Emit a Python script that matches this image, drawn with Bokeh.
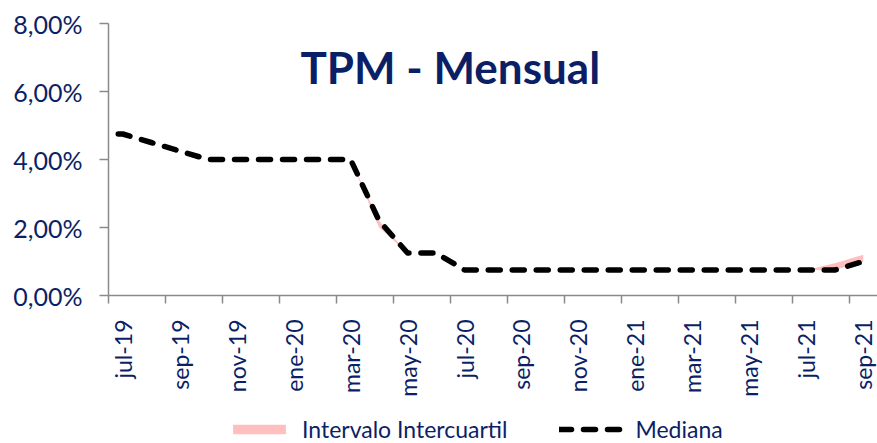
import math
from bokeh.plotting import figure
from bokeh.layouts import column
from bokeh.models import (LinearAxis, FixedTicker, CustomJSTickFormatter, Legend,
                          LegendItem, Label, Range1d)
from bokeh.embed import file_html
from bokeh.resources import INLINE

# ---- data ----
months = ["jun-19", "jul-19", "ago-19", "sep-19", "oct-19", "nov-19", "dic-19",
          "ene-20", "feb-20", "mar-20", "abr-20", "may-20", "jun-20", "jul-20",
          "ago-20", "sep-20", "oct-20", "nov-20", "dic-20", "ene-21", "feb-21",
          "mar-21", "abr-21", "may-21", "jun-21", "jul-21", "ago-21", "sep-21"]
mediana = [4.75, 4.75, 4.50, 4.25, 4.00, 4.00, 4.00,
           4.00, 4.00, 4.00, 2.20, 1.25, 1.25, 0.75,
           0.75, 0.75, 0.75, 0.75, 0.75, 0.75, 0.75,
           0.75, 0.75, 0.75, 0.75, 0.75, 0.75, 1.00]
q1 = [4.75, 4.75, 4.50, 4.25, 4.00, 4.00, 4.00,
      4.00, 4.00, 4.00, 2.00, 1.25, 1.25, 0.75,
      0.75, 0.75, 0.75, 0.75, 0.75, 0.75, 0.75,
      0.75, 0.75, 0.75, 0.75, 0.75, 0.75, 1.00]
q3 = [4.75, 4.75, 4.50, 4.25, 4.00, 4.00, 4.00,
      4.00, 4.00, 4.00, 2.20, 1.25, 1.25, 0.75,
      0.75, 0.75, 0.75, 0.75, 0.75, 0.75, 0.75,
      0.75, 0.75, 0.75, 0.75, 0.75, 0.95, 1.20]
y_ticks = [0, 2, 4, 6, 8]
series_names = ["Intervalo Intercuartil", "Mediana"]

NAVY = "#0B1F66"
GRAY = "#8A8A8A"
PINK = "#FFBFBF"
FONT = "Lato"

# month slots: "jul-19" occupies [0,1], data point at slot centre
x = [i - 0.5 for i in range(len(months))]
label_idx = list(range(1, len(months), 2))
label_pos = [x[i] for i in label_idx]
label_txt = {x[i]: months[i] for i in label_idx}
tick_pos = [xp - 0.5 for xp in label_pos]

band_style = dict(fill_color=PINK)
line_style = dict(line_color="black", line_width=5.5, line_dash="12 12",
                  line_cap="round", line_join="round")

p = figure(width=877, height=410, x_range=Range1d(0, 27), y_range=Range1d(0, 8),
           output_backend="svg", toolbar_location=None,
           x_axis_type=None, y_axis_type=None,
           min_border_left=108, min_border_right=0, min_border_top=23,
           min_border_bottom=115)
p.outline_line_color = None
p.background_fill_color = "white"

p.varea(x=x, y1=q1, y2=q3, **band_style)
p.line(x=x, y=mediana, **line_style)

# y axis
yax = LinearAxis(ticker=FixedTicker(ticks=y_ticks),
                 formatter=CustomJSTickFormatter(
                     code="return tick.toFixed(2).replace('.', ',') + '%';"))
yax.axis_line_color = GRAY
yax.axis_line_width = 1.5
yax.major_tick_line_color = GRAY
yax.major_tick_line_width = 1.5
yax.major_tick_out = 9
yax.major_tick_in = 0
yax.minor_tick_line_color = None
yax.major_label_text_font = FONT
yax.major_label_text_font_size = "25px"
yax.major_label_text_color = NAVY
yax.major_label_standoff = 17
p.add_layout(yax, "left")

# x axis: labels at slot centres (major), tick marks at slot boundaries (minor)
xl = LinearAxis(ticker=FixedTicker(ticks=label_pos, minor_ticks=tick_pos),
                major_label_overrides=label_txt)
xl.axis_line_color = GRAY
xl.axis_line_width = 1.5
xl.major_tick_line_color = None
xl.major_tick_out = 0
xl.major_tick_in = 0
xl.minor_tick_line_color = GRAY
xl.minor_tick_line_width = 1.5
xl.minor_tick_out = 8
xl.minor_tick_in = 0
xl.major_label_orientation = math.pi / 2
xl.major_label_text_font = FONT
xl.major_label_text_font_size = "23px"
xl.major_label_text_color = NAVY
xl.major_label_standoff = 16
p.add_layout(xl, "below")

title = Label(x=12.0, y=6.706, text="TPM - Mensual", text_font=FONT,
              text_font_style="bold", text_font_size="44px", text_color=NAVY,
              text_align="center", text_baseline="alphabetic")
p.add_layout(title)

# legend strip underneath
# (same series drawn again, but outside this strip's visible range, so only
#  the legend swatches show)
f2 = figure(width=877, height=33, x_range=Range1d(0, 27), y_range=Range1d(50, 51),
            output_backend="svg", toolbar_location=None,
            x_axis_type=None, y_axis_type=None,
            min_border_left=108, min_border_right=0, min_border_top=6,
            min_border_bottom=0)
f2.outline_line_color = None
lb = f2.varea(x=x, y1=q1, y2=q3, **band_style)
ll = f2.line(x=x, y=mediana, **line_style)
legend = Legend(items=[LegendItem(label=series_names[0], renderers=[lb]),
                       LegendItem(label=series_names[1], renderers=[ll])],
                orientation="horizontal", location=(118, 0),
                border_line_color=None, background_fill_alpha=0,
                label_text_font=FONT, label_text_font_size="23px",
                label_text_color=NAVY, glyph_width=66, glyph_height=12,
                spacing=52, padding=0, margin=0, label_standoff=10)
f2.add_layout(legend)

open("out.html", "w").write(file_html(column(p, f2), INLINE))
